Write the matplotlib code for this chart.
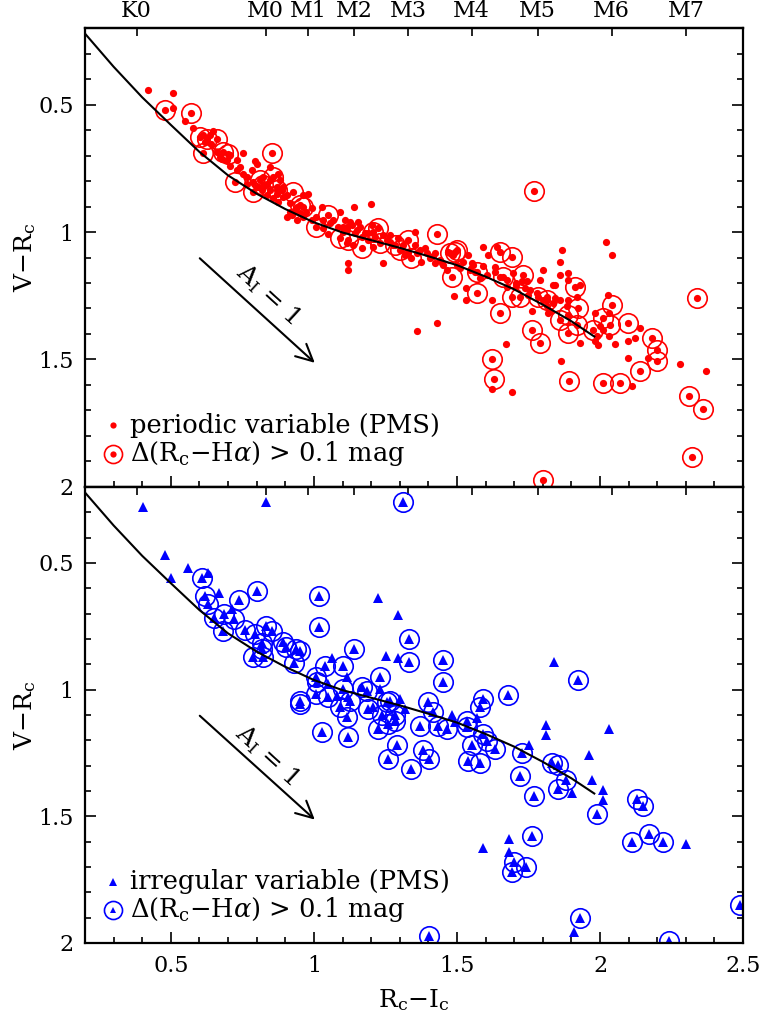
import numpy as np
import matplotlib
matplotlib.use("Agg")
import matplotlib.pyplot as plt
from matplotlib.ticker import MultipleLocator, FormatStrFormatter, NullLocator

plt.rcParams["font.family"] = "DejaVu Serif"
plt.rcParams["mathtext.fontset"] = "dejavuserif"

# spectral type scale (top axis), in Rc-Ic
sptype_names = ["K0", "M0", "M1", "M2", "M3", "M4", "M5", "M6", "M7"]
sptype_ri = [0.380, 0.831, 0.980, 1.140, 1.330, 1.551, 1.782, 2.041, 2.301]

# main-sequence / dwarf colour relation
seq_ri = [0.2, 0.3, 0.4, 0.5, 0.6, 0.7, 0.8, 0.9, 1.0, 1.1, 1.2, 1.3,
          1.4, 1.5, 1.6, 1.7, 1.8, 1.9, 1.98]
seq_vr = [0.222, 0.352, 0.472, 0.580, 0.686, 0.778, 0.850, 0.910, 0.962,
          1.002, 1.032, 1.062, 1.095, 1.130, 1.175, 1.225, 1.285, 1.350, 1.410]

# periodic variables (Rc-Ic, V-Rc)
per = np.array([
    [0.421, 0.445], [0.508, 0.454], [0.508, 0.513], [0.549, 0.563], [0.578, 0.593],
    [0.648, 0.602], [0.613, 0.621], [0.706, 0.699], [0.751, 0.690], [0.794, 0.721],
    [0.730, 0.719], [0.741, 0.745], [0.706, 0.742], [0.765, 0.784], [0.782, 0.758],
    [0.800, 0.732], [0.846, 0.745], [0.875, 0.771], [0.835, 0.810], [0.846, 0.836],
    [0.870, 0.849], [0.893, 0.823], [0.893, 0.862], [0.823, 0.823], [0.881, 0.797],
    [0.788, 0.803], [0.887, 0.836], [0.980, 0.849], [0.963, 0.855], [0.916, 0.888],
    [0.940, 0.901], [0.916, 0.921], [0.905, 0.940], [0.940, 0.953], [0.963, 0.940],
    [0.992, 0.907], [1.027, 0.901], [1.091, 0.921], [1.056, 0.966], [1.050, 1.008],
    [1.114, 0.979], [1.120, 1.120], [1.120, 1.148], [1.140, 0.901], [1.200, 0.891],
    [1.108, 0.953], [1.126, 0.960], [1.155, 0.960], [1.161, 0.979], [1.114, 0.992],
    [1.143, 1.005], [1.178, 1.005], [1.202, 0.973], [1.242, 1.012], [1.266, 1.012],
    [1.266, 1.038], [1.295, 1.025], [1.353, 0.999], [1.353, 1.051], [1.371, 1.070],
    [1.394, 1.083], [1.423, 1.083], [1.441, 1.109], [1.330, 1.083], [1.376, 1.116],
    [1.114, 1.044], [1.137, 1.051], [1.207, 1.057], [1.190, 1.031], [1.240, 1.120],
    [1.592, 1.057], [1.639, 1.057], [1.610, 1.090], [1.540, 1.090], [1.491, 1.250],
    [1.531, 1.268], [1.531, 1.220], [1.621, 1.266], [1.671, 1.438], [1.621, 1.617],
    [1.691, 1.626], [1.429, 1.357], [1.361, 1.387], [1.802, 1.148], [1.790, 1.188],
    [1.761, 1.311], [1.819, 1.318], [1.452, 1.129], [1.487, 1.090], [1.510, 1.142],
    [1.522, 1.116], [1.551, 1.122], [1.563, 1.155], [1.592, 1.135], [1.318, 1.090],
    [1.417, 1.096], [1.446, 1.122], [1.470, 1.077], [1.557, 1.129], [1.633, 1.138],
    [1.697, 1.161], [1.744, 1.194], [1.708, 1.201], [1.674, 1.214], [1.749, 1.246],
    [1.814, 1.253], [1.837, 1.207], [1.866, 1.070], [1.860, 1.116], [1.889, 1.159],
    [1.930, 1.207], [1.918, 1.253], [1.889, 1.266], [1.860, 1.266], [1.837, 1.279],
    [1.825, 1.311], [1.930, 1.435], [1.982, 1.318], [2.029, 1.246], [2.030, 1.409],
    [1.982, 1.428], [1.994, 1.445], [2.052, 1.441], [2.000, 1.370], [2.041, 1.090],
    [2.021, 1.040], [2.140, 1.376], [2.122, 1.415], [2.099, 1.426], [2.169, 1.496],
    [2.099, 1.496], [2.111, 1.604], [2.280, 1.516], [2.371, 1.546], [1.862, 1.507],
    [1.860, 1.168], [1.843, 1.207], [1.889, 1.188], [1.843, 1.259], [1.884, 1.292],
    [2.031, 1.318], [2.012, 1.383], [1.988, 1.409],
    [0.823, 0.784], [0.846, 0.797], [0.835, 0.855], [0.870, 0.823], [0.887, 0.836],
    [0.858, 0.868], [0.875, 0.881], [0.905, 0.855], [0.817, 0.836], [0.800, 0.823],
    [0.765, 0.810], [0.753, 0.771], [0.730, 0.758], [0.695, 0.719], [0.671, 0.706],
    [0.642, 0.654], [0.619, 0.647], [0.636, 0.621], [0.660, 0.686], [0.677, 0.712],
    [0.934, 0.914], [0.951, 0.927], [0.922, 0.934], [0.974, 0.921], [1.009, 0.940],
    [1.033, 0.953], [1.068, 0.953], [1.085, 0.979], [1.103, 0.999], [1.033, 0.986],
    [0.992, 0.953], [1.102, 0.979], [1.132, 0.973], [1.149, 0.992], [1.167, 1.018],
    [1.190, 1.005], [1.213, 1.018], [1.254, 1.031], [1.277, 1.051], [1.312, 1.051],
    [1.359, 1.083], [1.406, 1.103], [1.388, 1.064], [1.423, 1.122], [1.464, 1.148],
    [1.499, 1.129], [1.545, 1.148], [1.580, 1.181], [1.604, 1.168], [1.633, 1.155],
    [1.650, 1.175], [1.674, 1.188], [1.708, 1.207], [1.738, 1.220], [1.755, 1.227],
    [1.726, 1.194], [1.779, 1.240], [1.802, 1.266], [1.814, 1.292],
])

# periodic variables with Rc-Halpha excess
per_ha = np.array([
    [0.479, 0.523], [0.569, 0.532], [0.601, 0.628], [0.625, 0.634], [0.662, 0.634],
    [0.611, 0.690], [0.683, 0.686], [0.700, 0.693], [0.852, 0.690], [0.724, 0.804],
    [0.858, 0.784], [0.811, 0.797], [0.788, 0.843], [0.928, 0.843], [0.963, 0.901],
    [1.009, 0.979], [1.050, 0.934], [1.091, 1.025], [0.823, 0.816], [0.870, 0.836],
    [0.951, 0.895], [1.207, 0.999], [1.225, 0.986], [1.330, 1.031], [1.341, 1.103],
    [1.301, 1.070], [1.167, 1.064], [1.120, 1.031], [1.231, 1.044], [1.429, 1.009],
    [1.493, 1.077], [1.476, 1.083], [1.481, 1.175], [1.650, 1.077], [1.691, 1.099],
    [1.569, 1.155], [1.569, 1.240], [1.650, 1.318], [1.691, 1.255], [1.720, 1.255],
    [1.732, 1.168], [1.761, 1.385], [1.790, 1.435], [1.621, 1.497], [1.629, 1.575],
    [1.782, 1.253], [1.283, 1.051], [1.499, 1.070], [1.662, 1.175], [1.913, 1.214],
    [1.924, 1.298], [1.860, 1.344], [1.889, 1.324], [1.889, 1.396], [2.012, 1.337],
    [2.041, 1.285], [2.035, 1.363], [1.977, 1.383], [2.099, 1.357], [2.181, 1.415],
    [2.198, 1.464], [2.198, 1.506], [2.140, 1.546], [2.070, 1.594], [2.012, 1.594],
    [2.311, 1.643], [2.359, 1.695], [2.340, 1.259], [2.321, 1.884], [1.802, 1.971],
    [1.770, 0.840], [1.890, 1.585], [1.814, 1.266], [1.918, 1.363],
])

# irregular variables
irr = np.array([
    [0.401, 0.280], [0.831, 0.259], [0.479, 0.469], [0.561, 0.518], [0.500, 0.558],
    [0.631, 0.538], [0.669, 0.617], [0.712, 0.682], [1.062, 0.875], [1.223, 0.637],
    [1.252, 0.869], [1.295, 0.875], [1.295, 0.706], [1.050, 0.978], [1.114, 0.952],
    [1.231, 0.997], [1.207, 1.070], [1.120, 1.030], [1.079, 1.024], [1.840, 0.889],
    [1.481, 1.102], [1.493, 1.129], [1.569, 1.111], [1.301, 1.037], [1.318, 1.076],
    [1.811, 1.139], [1.811, 1.178], [2.030, 1.157], [1.753, 1.220], [1.901, 1.408],
    [1.963, 1.257], [1.971, 1.358], [2.012, 1.398], [2.012, 1.437], [2.301, 1.610],
    [1.592, 1.627], [1.682, 1.588], [1.682, 1.640], [1.910, 1.958],
])

# irregular variables with Rc-Halpha excess
irr_ha = np.array([
    [0.609, 0.558], [0.621, 0.630], [0.631, 0.660], [0.739, 0.647], [0.800, 0.610],
    [0.650, 0.718], [0.685, 0.702], [0.720, 0.722], [0.681, 0.770], [0.759, 0.765],
    [0.794, 0.781], [0.831, 0.748], [0.852, 0.770], [0.817, 0.816], [0.817, 0.840],
    [0.788, 0.873], [0.823, 0.873], [0.893, 0.810], [0.902, 0.830], [0.939, 0.840],
    [0.951, 0.849], [0.930, 0.896], [1.019, 0.630], [1.019, 0.751], [1.140, 0.840],
    [1.007, 0.949], [1.038, 0.908], [1.012, 0.971], [1.103, 0.908], [1.103, 0.997],
    [1.050, 1.028], [1.009, 1.017], [1.091, 1.070], [1.126, 1.043], [1.114, 1.109],
    [1.120, 1.185], [1.027, 1.168], [0.951, 1.043], [0.951, 1.056], [1.167, 0.991],
    [1.184, 1.004], [1.231, 0.952], [1.190, 1.076], [1.225, 1.155], [1.254, 1.050],
    [1.237, 1.102], [1.260, 1.135], [1.283, 1.122], [1.310, 0.260], [1.332, 0.800],
    [1.332, 0.890], [1.450, 0.882], [1.450, 0.969], [1.922, 0.962], [1.680, 1.020],
    [1.400, 1.050], [1.417, 1.089], [1.371, 1.142], [1.435, 1.142], [1.464, 1.155],
    [1.534, 1.122], [1.534, 1.148], [1.580, 1.070], [1.592, 1.037], [1.592, 1.174],
    [1.604, 1.201], [1.266, 1.043], [1.283, 1.102], [1.260, 1.273], [1.289, 1.220],
    [1.339, 1.312], [1.380, 1.240], [1.403, 1.273], [1.551, 1.220], [1.540, 1.282],
    [1.580, 1.289], [1.633, 1.234], [1.726, 1.251], [1.720, 1.339], [1.769, 1.421],
    [1.831, 1.290], [1.854, 1.296], [1.881, 1.358], [1.854, 1.391], [1.991, 1.489],
    [2.130, 1.430], [2.151, 1.461], [2.113, 1.601], [2.172, 1.571], [2.221, 1.601],
    [1.700, 1.680], [1.693, 1.719], [1.740, 1.700], [1.761, 1.579], [1.930, 1.900],
    [1.402, 1.972], [2.242, 1.991], [2.490, 1.850],
])

# reddening vector A_I = 1
red_start = (0.601, 1.103)
red_end = (1.003, 1.513)

fig = plt.figure(figsize=(7.64, 10.19), dpi=100)
ax1 = fig.add_axes([0.1113, 0.5221, 0.8613, 0.4504])
ax2 = fig.add_axes([0.1113, 0.0746, 0.8613, 0.4475])


def setup(ax, top_labels):
    ax.set_xlim(0.2, 2.5)
    ax.set_ylim(2.0, 0.2)
    ax.xaxis.set_major_locator(MultipleLocator(0.5))
    ax.xaxis.set_minor_locator(MultipleLocator(0.1))
    ax.yaxis.set_major_locator(MultipleLocator(0.5))
    ax.yaxis.set_minor_locator(MultipleLocator(0.1))
    ax.xaxis.set_major_formatter(FormatStrFormatter("%g"))
    ax.yaxis.set_major_formatter(FormatStrFormatter("%g"))
    ax.tick_params(which="both", direction="in", top=False, right=True,
                   width=1.2, labelsize=16)
    ax.tick_params(which="major", length=8)
    ax.tick_params(which="minor", length=4.5)
    ax.tick_params(axis="y", pad=8)
    ax.tick_params(axis="x", pad=9)
    for s in ax.spines.values():
        s.set_linewidth(1.6)
    sec = ax.secondary_xaxis("top")
    sec.set_xticks(sptype_ri)
    sec.set_xticklabels(sptype_names if top_labels else [])
    sec.xaxis.set_minor_locator(NullLocator())
    sec.tick_params(direction="in", length=5.5, width=1.2, pad=4,
                    labelsize=16)
    sec.spines["top"].set_linewidth(1.6)
    ax.set_ylabel(r"V$-$R$_{\rm c}$", fontsize=18, va="center")
    ax.yaxis.set_label_coords(-0.091, 0.5)
    ax.plot(seq_ri, seq_vr, color="black", lw=1.5, zorder=3)
    ax.annotate("", xy=red_end, xytext=red_start,
                arrowprops=dict(arrowstyle="->,head_length=0.6,head_width=0.3",
                                lw=1.5, color="black", shrinkA=0, shrinkB=0,
                                mutation_scale=20))


setup(ax1, True)
setup(ax2, False)
ax1.tick_params(labelbottom=False)

ax1.text(0.840, 1.246, r"A$_{\rm I}$ = 1", fontsize=18, rotation=-42.4,
         ha="center", va="center", rotation_mode="anchor")
ax2.text(0.835, 1.260, r"A$_{\rm I}$ = 1", fontsize=18, rotation=-42.4,
         ha="center", va="center", rotation_mode="anchor")

# top: periodic variables
ax1.plot(per[:, 0], per[:, 1], "o", ms=5.2, mfc="red", mec="red", mew=0)
ax1.plot(per_ha[:, 0], per_ha[:, 1], "o", ms=5.2, mfc="red", mec="red", mew=0)
ax1.plot(per_ha[:, 0], per_ha[:, 1], "o", ms=14, mfc="none", mec="red",
         mew=1.2)

# bottom: irregular variables
ax2.plot(irr[:, 0], irr[:, 1], "^", ms=6.5, mfc="blue", mec="blue", mew=0)
ax2.plot(irr_ha[:, 0], irr_ha[:, 1], "^", ms=6.5, mfc="blue", mec="blue",
         mew=0)
ax2.plot(irr_ha[:, 0], irr_ha[:, 1], "o", ms=14, mfc="none", mec="blue",
         mew=1.2)

ha_label = r"$\Delta$(R$_{\rm c}$$-$H$\alpha$) > 0.1 mag"

# hand-made legends
leg_y1, leg_y2 = 0.134, 0.0725
ax1.plot([0.0426], [leg_y1], "o", ms=4.5, color="red", mew=0,
         transform=ax1.transAxes)
ax1.plot([0.0426], [leg_y2], "o", ms=4.5, color="red", mew=0,
         transform=ax1.transAxes)
ax1.plot([0.0426], [leg_y2], "o", ms=13, mfc="none", mec="red", mew=1.2,
         transform=ax1.transAxes)
ax1.text(0.0684, leg_y1, "periodic variable (PMS)", fontsize=18.5,
         va="center", transform=ax1.transAxes)
ax1.text(0.0684, leg_y2, ha_label, fontsize=18.5, va="center",
         transform=ax1.transAxes)

ax2.plot([0.0426], [leg_y1], "^", ms=5.5, color="blue", mew=0,
         transform=ax2.transAxes)
ax2.plot([0.0426], [leg_y2], "^", ms=4.5, color="blue", mew=0,
         transform=ax2.transAxes)
ax2.plot([0.0426], [leg_y2], "o", ms=13, mfc="none", mec="blue", mew=1.2,
         transform=ax2.transAxes)
ax2.text(0.0684, leg_y1, "irregular variable (PMS)", fontsize=18.5,
         va="center", transform=ax2.transAxes)
ax2.text(0.0684, leg_y2, ha_label, fontsize=18.5, va="center",
         transform=ax2.transAxes)

ax2.set_xlabel(r"R$_{\rm c}$$-$I$_{\rm c}$", fontsize=18, va="center")
ax2.xaxis.set_label_coords(0.5, -0.125)

fig.savefig("out.png", dpi=100)
